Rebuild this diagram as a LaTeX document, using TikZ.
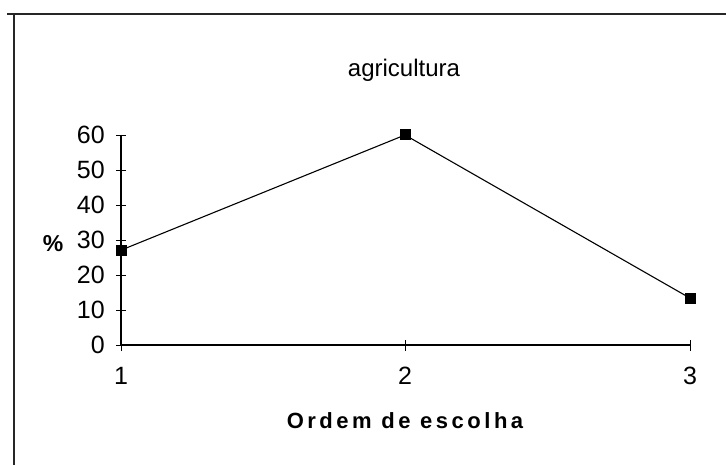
\documentclass[tikz,border=0pt]{standalone}
\usepackage{fontspec}
\setmainfont{Liberation Sans}
\begin{document}
\begin{tikzpicture}[x=1pt,y=-1pt,
  frame/.style={line width=1.4pt,black!85},
  axisline/.style={line width=1.1pt},
  tickline/.style={line width=0.9pt},
  dataline/.style={line width=1.1pt},
  marker/.style={rectangle,fill=black,inner sep=0pt,minimum size=11pt},
  ylab/.style={anchor=east,font=\fontsize{25}{25}\selectfont,inner sep=0pt},
  xlab/.style={anchor=center,font=\fontsize{25}{25}\selectfont,inner sep=0pt}]
\useasboundingbox (0,0) rectangle (726,465);
% frame (top and left edges only)
\coordinate (fa) at (7,14);
\coordinate (fb) at (726,14);
\coordinate (fc) at (14,14);
\coordinate (fd) at (14,465);
\draw[frame] (fa) -- (fb);
\draw[frame] (fc) -- (fd);
% title
\node (title) at (404,70) {\fontsize{24}{24}\selectfont agricultura};
% axes
\coordinate (o) at (121,345);
\coordinate (ytop) at (121,135);
\coordinate (xend) at (690,345);
\draw[axisline] (ytop) -- (o) -- (xend);
% y ticks and labels
\foreach \v in {0,10,...,60}{
  \coordinate (yt\v) at (121,{345-3.5*\v});
  \draw[tickline] ([xshift=-5pt]yt\v) -- ([xshift=5pt]yt\v);
  \node[ylab] (yl\v) at ([xshift=-16pt]yt\v) {\v};
}
% x ticks and labels
\foreach \k/\x in {1/121,2/405,3/690}{
  \coordinate (xt\k) at (\x,345);
  \draw[tickline] ([yshift=5pt]xt\k) -- ([yshift=-6pt]xt\k);
  \node[xlab] (xl\k) at ([yshift=-31pt]xt\k) {\k};
}
% axis titles
\node (pct) at (53,244) {\fontsize{23}{23}\selectfont\bfseries \%};
\node (xtitle) at (405,421) {\fontsize{22}{22}\selectfont\bfseries\addfontfeatures{LetterSpace=16}Ordem de escolha};
% data
\node[marker] (p1) at (121,{345-3.5*27.1}) {};
\node[marker] (p2) at (405,{345-3.5*60}) {};
\node[marker] (p3) at (690,{345-3.5*13.4}) {};
\draw[dataline] (p1.center) -- (p2.center) -- (p3.center);
\end{tikzpicture}
\end{document}
